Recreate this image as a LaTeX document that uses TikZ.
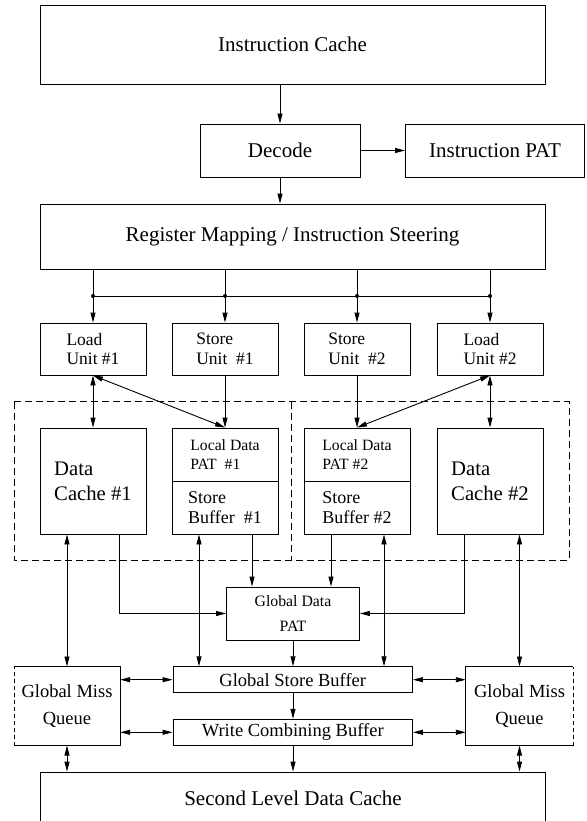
\documentclass[tikz,border=0pt]{standalone}
\usepackage{fontspec}
\setmainfont{Liberation Serif}
\usetikzlibrary{arrows.meta}
\begin{document}
\begin{tikzpicture}[x=1pt,y=-1pt,
  lw/.style={line width=0.9pt},
  box/.style={lw,draw,inner sep=0pt,align=center},
  tip/.tip={Triangle[length=10pt,width=5pt]},
  conn/.style={lw,-tip},
  bi/.style={lw,tip-tip},
  dashbox/.style={lw,dash pattern=on 7pt off 4pt},
  fbig/.style={font=\fontsize{21}{25}\selectfont},
  funit/.style={font=\fontsize{17.5}{19.5}\selectfont,align=left},
  fdc/.style={font=\fontsize{20.7}{25}\selectfont,align=left},
  fldp/.style={font=\fontsize{15.7}{19.5}\selectfont,align=left},
  fsb/.style={font=\fontsize{18}{19.5}\selectfont,align=left},
  fgdp/.style={font=\fontsize{15.8}{25.3}\selectfont},
  fmid/.style={font=\fontsize{18.5}{26.3}\selectfont},
]
\useasboundingbox (0,0) rectangle (586,821);

% top
\node[box,fbig,minimum width=505,minimum height=79] (ic) at (292.5,44.5) {Instruction Cache};
\node[box,fbig,minimum width=160,minimum height=53] (dec) at (280,150.5) {Decode};
\node[box,fbig,minimum width=179,minimum height=53] (ipat) at (495,150.5) {Instruction PAT};
\node[box,fbig,minimum width=505,minimum height=65] (rm) at (292.5,236.5) {Register Mapping / Instruction Steering};

% units
\node[box,funit,minimum width=106,minimum height=52] (lu1) at (93,349) {Load\\Unit \#1};
\node[box,funit,minimum width=106,minimum height=52] (su1) at (225,349) {Store\\Unit~~\#1};
\node[box,funit,minimum width=106,minimum height=52] (su2) at (357,349) {Store\\Unit~~\#2};
\node[box,funit,minimum width=106,minimum height=52] (lu2) at (490,349) {Load\\Unit \#2};

% dashed groups
\draw[dashbox] (14,401.7) -- (569,401.7) -- (569,560) -- (14,560) -- cycle;
\draw[dashbox] (291.7,401.7) -- (291.7,560);

\node[box,fdc,minimum width=106,minimum height=106] (dc1) at (93,481) {Data\\Cache \#1};
\node[box,fldp,minimum width=106,minimum height=53] (ldp1) at (225,454.5) {Local Data\\PAT~~\#1};
\node[box,fsb,minimum width=106,minimum height=53] (sb1) at (225,507.5) {Store\\Buffer~~\#1};
\node[box,fldp,minimum width=106,minimum height=53] (ldp2) at (357,454.5) {Local Data\\PAT \#2};
\node[box,fsb,minimum width=106,minimum height=53] (sb2) at (357,507.5) {Store\\Buffer \#2};
\node[box,fdc,minimum width=106,minimum height=106] (dc2) at (490,481) {Data\\Cache \#2};

% lower
\node[box,fgdp,minimum width=133,minimum height=53] (gdp) at (293,613.5) {Global Data\\PAT};
\node[box,fmid,minimum width=239.5,minimum height=26] (gsb) at (292.75,679.7) {Global Store Buffer};
\node[box,fmid,minimum width=239.5,minimum height=26] (wcb) at (292.75,732.3) {Write Combining Buffer};
\node[inner sep=0pt,fmid,align=center,minimum width=106,minimum height=78.6] (gmq1) at (67,706) {Global Miss\\Queue};
\node[inner sep=0pt,fmid,align=center,minimum width=107,minimum height=78.6] (gmq2) at (519.5,706) {Global Miss\\Queue};
\draw[lw] (gmq1.north west) -- (gmq1.north east) -- (gmq1.south east) -- (gmq1.south west);
\draw[line width=0.6pt,dash pattern=on 4pt off 3pt] (gmq1.south west) -- (gmq1.north west);
\draw[lw] (gmq2.north east) -- (gmq2.north west) -- (gmq2.south west) -- (gmq2.south east);
\draw[line width=0.6pt,dash pattern=on 4pt off 3pt] (gmq2.south east) -- (gmq2.north east);
\node[box,fbig,minimum width=505,minimum height=52] (sldc) at (293,798) {Second Level Data Cache};

% top connectors
\draw[conn] (ic.south -| dec.north) -- (dec.north);
\draw[conn] (dec.south) -- (dec.south |- rm.north);
\draw[conn] (dec.east) -- (ipat.west);

\coordinate (busL) at (93,296);
\coordinate (busR) at (490,296);
\draw[lw] (busL) -- (busR);
\foreach \u in {lu1,su1,su2,lu2}{
  \draw[conn] (rm.south -| \u.north) -- (\u.north);
  \fill (\u.north |- busL) circle (2pt);
}

% units to caches
\draw[bi] (lu1.south) -- (dc1.north);
\draw[bi] (lu1.south) -- (ldp1.north);
\draw[conn] (su1.south) -- (ldp1.north);
\draw[bi] (lu2.south) -- (dc2.north);
\draw[bi] (lu2.south) -- (ldp2.north);
\draw[conn] (su2.south) -- (ldp2.north);

% caches to lower level
\draw[bi] (dc1.south -| gmq1.north) -- (gmq1.north);
\draw[conn] ([xshift=26.5pt]dc1.south) |- (gdp.west);
\draw[bi] ([xshift=-26pt]sb1.south) -- ([xshift=-26pt]sb1.south |- gsb.north);
\draw[conn] ([xshift=27pt]sb1.south) -- ([xshift=27pt]sb1.south |- gdp.north);
\draw[conn] ([xshift=-26pt]sb2.south) -- ([xshift=-26pt]sb2.south |- gdp.north);
\draw[bi] ([xshift=27pt]sb2.south) -- ([xshift=27pt]sb2.south |- gsb.north);
\draw[conn] ([xshift=-26pt]dc2.south) |- (gdp.east);
\draw[bi] (dc2.south -| gmq2.north) -- (gmq2.north);

\draw[conn] (gdp.south) -- (gdp.south |- gsb.north);
\draw[conn] (gsb.south -| gdp.south) -- (wcb.north -| gdp.south);
\draw[conn] (wcb.south -| gdp.south) -- (sldc.north -| gdp.south);
\draw[bi] (gmq1.east |- gsb.west) -- (gsb.west);
\draw[bi] (gmq1.east |- wcb.west) -- (wcb.west);
\draw[bi] (gsb.east) -- (gsb.east -| gmq2.west);
\draw[bi] (wcb.east) -- (wcb.east -| gmq2.west);
\draw[bi] (gmq1.south) -- (gmq1.south |- sldc.north);
\draw[bi] (gmq2.south) -- (gmq2.south |- sldc.north);
\end{tikzpicture}
\end{document}
